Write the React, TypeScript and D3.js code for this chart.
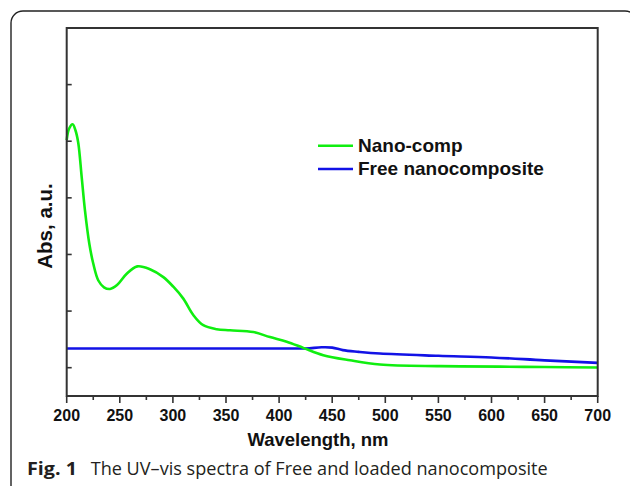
import React, { useEffect, useRef } from 'react'
import * as d3 from 'd3'

// wavelength (nm) and absorbance (in tick units)
const nanoCompX = [200, 202.2, 205.6, 208.3, 210.9, 214.1, 217.2, 221.3, 225, 229.8, 235.1, 240.8, 247.4, 256.5, 266.5, 278.4, 291, 300.4, 309.8, 319.2, 328.6, 341.2, 353.8, 375.7, 391.4, 407.2, 422.8, 441.6, 466.8, 495, 551.5, 608, 650, 700]
const nanoCompY = [4.02, 4.22, 4.30, 4.19, 3.97, 3.37, 2.78, 2.19, 1.84, 1.54, 1.42, 1.39, 1.46, 1.66, 1.79, 1.74, 1.60, 1.43, 1.22, 0.93, 0.75, 0.68, 0.66, 0.63, 0.54, 0.46, 0.35, 0.22, 0.13, 0.056, 0.027, 0.018, 0.012, 0.004]
const freeX = [200, 250, 300, 350, 400, 425, 440, 450, 460, 475, 495, 550, 600, 650, 700]
const freeY = [0.34, 0.34, 0.34, 0.34, 0.34, 0.34, 0.36, 0.355, 0.31, 0.28, 0.25, 0.21, 0.18, 0.13, 0.085]
const xTicks = [200, 250, 300, 350, 400, 450, 500, 550, 600, 650, 700]
const xMinor = [225, 275, 325, 375, 425, 475, 525, 575, 625, 675]
const yTicks = [0, 1, 2, 3, 4, 5]
const seriesNames = ['Nano-comp', 'Free nanocomposite']
const seriesColors = ['#10ee10', '#1212e6']

export default function App() {
  const ref = useRef<SVGSVGElement>(null)

  useEffect(() => {
    const svg = d3.select(ref.current)
    svg.selectAll('*').remove()

    const left = 66.7, right = 597.7, top = 28, bottom = 396
    const x = d3.scaleLinear().domain([200, 700]).range([left, right])
    const y = d3.scaleLinear().domain([-0.5, 6]).range([bottom, top])

    // caption frame
    svg.append('rect')
      .attr('x', 11).attr('y', 11).attr('width', 626).attr('height', 520)
      .attr('rx', 12).attr('fill', 'none').attr('stroke', '#222').attr('stroke-width', 1.4)

    const line = d3.line<number>().curve(d3.curveCatmullRom.alpha(0.5))

    const draw = (xs: number[], ys: number[], color: string) => {
      svg.append('path')
        .attr('d', line.x((d, i) => x(xs[i])).y(d => y(d))(ys))
        .attr('fill', 'none').attr('stroke', color).attr('stroke-width', 2.6)
    }
    draw(freeX, freeY, seriesColors[1])
    draw(nanoCompX, nanoCompY, seriesColors[0])

    // plot box
    svg.append('rect')
      .attr('x', left).attr('y', top).attr('width', right - left).attr('height', bottom - top)
      .attr('fill', 'none').attr('stroke', '#333').attr('stroke-width', 2)

    svg.selectAll('.ytick').data(yTicks).enter().append('line')
      .attr('x1', left).attr('x2', left + 5).attr('y1', d => y(d)).attr('y2', d => y(d))
      .attr('stroke', '#333').attr('stroke-width', 1.6)

    svg.selectAll('.xminor').data(xMinor).enter().append('line')
      .attr('x1', d => x(d)).attr('x2', d => x(d)).attr('y1', bottom).attr('y2', bottom + 4)
      .attr('stroke', '#333').attr('stroke-width', 1.6)

    svg.selectAll('.xtick').data(xTicks).enter().append('line')
      .attr('x1', d => x(d)).attr('x2', d => x(d)).attr('y1', bottom).attr('y2', bottom + 7)
      .attr('stroke', '#333').attr('stroke-width', 1.6)

    svg.selectAll('.xlabel').data(xTicks).enter().append('text')
      .attr('x', d => x(d)).attr('y', 420.7)
      .attr('text-anchor', 'middle')
      .attr('font-family', 'Liberation Sans, Arial, sans-serif')
      .attr('font-weight', 'bold').attr('font-size', 16)
      .attr('fill', '#111')
      .text(d => d)

    svg.append('text')
      .attr('x', 318).attr('y', 446)
      .attr('text-anchor', 'middle')
      .attr('font-family', 'Liberation Sans, Arial, sans-serif')
      .attr('font-weight', 'bold').attr('font-size', 18.5)
      .attr('fill', '#111')
      .text('Wavelength, nm')

    svg.append('text')
      .attr('transform', 'translate(51.7,226) rotate(-90)')
      .attr('text-anchor', 'middle')
      .attr('font-family', 'Liberation Sans, Arial, sans-serif')
      .attr('font-weight', 'bold').attr('font-size', 20.5)
      .attr('fill', '#111')
      .text('Abs, a.u.')

    // legend
    const legendY = [145.7, 169]
    seriesNames.forEach((name, i) => {
      svg.append('line')
        .attr('x1', 318).attr('x2', 353).attr('y1', legendY[i]).attr('y2', legendY[i])
        .attr('stroke', seriesColors[i]).attr('stroke-width', 2.6)
      svg.append('text')
        .attr('x', 358).attr('y', legendY[i] + 5.8)
        .attr('font-family', 'Liberation Sans, Arial, sans-serif')
        .attr('font-weight', 'bold').attr('font-size', 19)
        .attr('fill', '#111')
        .text(name)
    })

    // caption
    svg.append('text')
      .attr('x', 27).attr('y', 475)
      .attr('font-family', 'Open Sans, Noto Sans, sans-serif')
      .attr('font-size', 17.5).attr('font-weight', 'bold').attr('fill', '#231f20')
      .attr('textLength', 50).attr('lengthAdjust', 'spacingAndGlyphs')
      .text('Fig. 1')
    svg.append('text')
      .attr('x', 90.7).attr('y', 475)
      .attr('font-family', 'Open Sans, Noto Sans, sans-serif')
      .attr('font-size', 17.5).attr('fill', '#231f20')
      .attr('textLength', 457).attr('lengthAdjust', 'spacingAndGlyphs')
      .text('The UV–vis spectra of Free and loaded nanocomposite')
  }, [])

  return (
    <svg ref={ref} width={630} height={486}
      style={{ position: 'absolute', left: 0, top: 0, background: '#fff' }} />
  )
}
